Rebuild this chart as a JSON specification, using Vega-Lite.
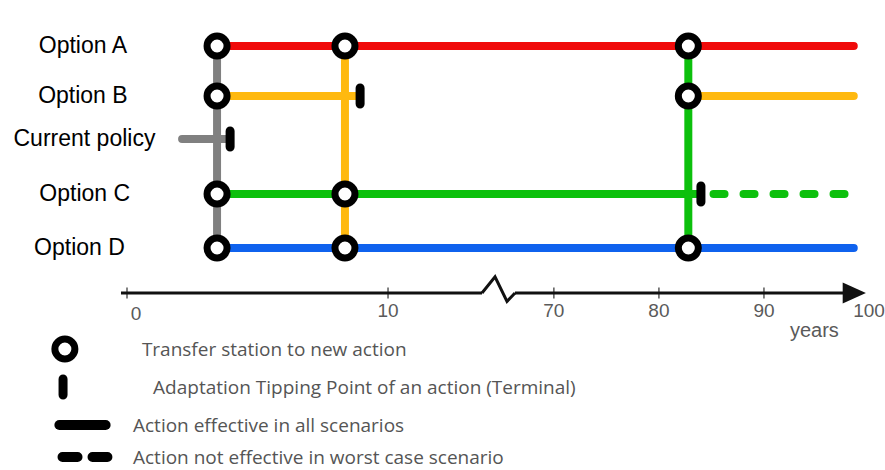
{
  "$schema": "https://vega.github.io/schema/vega-lite/v6.json",
  "width": 885,
  "height": 470,
  "autosize": "none",
  "padding": 0,
  "background": "white",
  "config": {"view": {"stroke": null}},
  "datasets": {
    "segments": [
      {"action": "A", "x": 3.45, "x2": 98.55, "row": 1, "row2": 1, "effective": "all"},
      {"action": "B", "x": 3.45, "x2": 8.93, "row": 2, "row2": 2, "effective": "all"},
      {"action": "B", "x": 82.8, "x2": 98.55, "row": 2, "row2": 2, "effective": "all"},
      {"action": "CP", "x": 2.11, "x2": 3.95, "row": 3, "row2": 3, "effective": "all"},
      {"action": "C", "x": 3.45, "x2": 84.0, "row": 4, "row2": 4, "effective": "all"},
      {"action": "C", "x": 85.2, "x2": 97.7, "row": 4, "row2": 4, "effective": "not worst case"},
      {"action": "D", "x": 3.45, "x2": 98.55, "row": 5, "row2": 5, "effective": "all"},
      {"action": "CP", "x": 3.45, "x2": 3.45, "row": 1, "row2": 5, "effective": "all"},
      {"action": "B", "x": 8.35, "x2": 8.35, "row": 1, "row2": 5, "effective": "all"},
      {"action": "C", "x": 82.8, "x2": 82.8, "row": 1, "row2": 5, "effective": "all"}
    ],
    "stations": [
      {"x": 3.45, "row": 1}, {"x": 8.35, "row": 1}, {"x": 82.8, "row": 1},
      {"x": 3.45, "row": 2}, {"x": 82.8, "row": 2},
      {"x": 3.45, "row": 4}, {"x": 8.35, "row": 4},
      {"x": 3.45, "row": 5}, {"x": 8.35, "row": 5}, {"x": 82.8, "row": 5},
      {"x": -2.38, "row": 9}
    ],
    "terminals": [
      {"x": 8.93, "row": 2}, {"x": 3.95, "row": 3}, {"x": 84.0, "row": 4}, {"x": -2.45, "row": 10}
    ],
    "options": [
      {"label": "Option A", "x": -1.69, "row": 1},
      {"label": "Option B", "x": -1.69, "row": 2},
      {"label": "Current policy", "x": -1.63, "row": 3},
      {"label": "Option C", "x": -1.62, "row": 4},
      {"label": "Option D", "x": -1.82, "row": 5}
    ],
    "axisline": [
      {"x": -0.23, "x2": 13.6, "row": 6},
      {"x": 66.3, "x2": 99.0, "row": 6}
    ],
    "zigzag": [
      {"o": 1, "x": 13.6, "row": 6},
      {"o": 2, "x": 34.4, "row": 5.64},
      {"o": 3, "x": 53.5, "row": 6.47},
      {"o": 4, "x": 66.3, "row": 6}
    ],
    "ticks": [
      {"x": 0, "label": "0", "row": 6},
      {"x": 10, "label": "10", "row": 6},
      {"x": 70, "label": "70", "row": 6},
      {"x": 80, "label": "80", "row": 6},
      {"x": 90, "label": "90", "row": 6},
      {"x": 100, "label": "100", "row": 6}
    ],
    "legendtext": [
      {"x": 0.57, "row": 9, "label": "Transfer station to new action"},
      {"x": 1.0, "row": 10, "label": "Adaptation Tipping Point of an action (Terminal)"},
      {"x": 0.23, "row": 11, "label": "Action effective in all scenarios"},
      {"x": 0.23, "row": 12, "label": "Action not effective in worst case scenario"}
    ]
  },
  "encoding": {
    "x": {
      "field": "x",
      "type": "quantitative",
      "axis": null,
      "scale": {"type": "linear", "domain": [0, 13.6, 66.3, 100], "range": [127, 482, 515, 869], "nice": false, "zero": false}
    },
    "y": {
      "field": "row",
      "type": "quantitative",
      "axis": null,
      "scale": {"type": "linear", "domain": [1, 2, 3, 4, 5, 6, 7, 8, 9, 10, 11, 12], "range": [46, 96, 139, 194, 248, 293, 311, 337, 349, 387, 425, 457], "nice": false, "zero": false}
    }
  },
  "layer": [
    {
      "data": {"name": "segments"},
      "mark": {"type": "rule", "strokeWidth": 8, "strokeCap": "round"},
      "encoding": {
        "x2": {"field": "x2"},
        "y2": {"field": "row2"},
        "color": {
          "field": "action", "type": "nominal", "legend": null,
          "scale": {"domain": ["A", "B", "CP", "C", "D"], "range": ["#f00a0a", "#ffb90f", "#808080", "#0cc00c", "#0f62ee"]}
        },
        "strokeDash": {
          "field": "effective", "type": "nominal", "legend": null,
          "scale": {"domain": ["all", "not worst case"], "range": [[1, 0], [11, 19]]}
        }
      }
    },
    {
      "data": {"name": "axisline"},
      "mark": {"type": "rule", "strokeWidth": 3, "color": "#111111"},
      "encoding": {"x2": {"field": "x2"}}
    },
    {
      "data": {"name": "zigzag"},
      "mark": {"type": "line", "strokeWidth": 3, "color": "#111111", "strokeJoin": "miter"},
      "encoding": {"order": {"field": "o", "type": "quantitative"}}
    },
    {
      "data": {"name": "ticks"},
      "transform": [{"filter": "datum.x < 100"}],
      "mark": {"type": "tick", "orient": "vertical", "size": 11, "thickness": 1.5, "color": "#111111"}
    },
    {
      "data": {"values": [{"x": 98.6, "row": 6}]},
      "mark": {"type": "point", "shape": "M -1 -0.9 L 1 0 L -1 0.9 Z", "size": 540, "filled": true, "color": "#111111", "opacity": 1}
    },
    {
      "data": {"name": "ticks"},
      "transform": [{"filter": "datum.x > 0"}],
      "mark": {"type": "text", "font": "Liberation Sans", "fontSize": 19, "color": "#5a5a5a", "baseline": "middle", "align": "center"},
      "encoding": {"y": {"datum": 7}, "text": {"field": "label"}}
    },
    {
      "data": {"name": "ticks"},
      "transform": [{"filter": "datum.x == 0"}],
      "mark": {"type": "text", "font": "Liberation Sans", "fontSize": 19, "color": "#5a5a5a", "baseline": "middle", "align": "center", "dx": 9, "dy": 3},
      "encoding": {"y": {"datum": 7}, "text": {"field": "label"}}
    },
    {
      "data": {"values": [{"x": 94.8, "row": 8, "label": "years"}]},
      "mark": {"type": "text", "font": "Liberation Sans", "fontSize": 20, "color": "#5a5a5a", "baseline": "alphabetic", "align": "center"},
      "encoding": {"text": {"field": "label"}}
    },
    {
      "data": {"name": "stations"},
      "mark": {"type": "point", "shape": "circle", "size": 400, "filled": false, "fill": "white", "fillOpacity": 1, "stroke": "black", "strokeWidth": 7, "opacity": 1}
    },
    {
      "data": {"name": "terminals"},
      "mark": {"type": "tick", "orient": "vertical", "size": 25, "thickness": 9, "cornerRadius": 4.5, "color": "black", "opacity": 1}
    },
    {
      "data": {"name": "options"},
      "mark": {"type": "text", "font": "Liberation Sans", "fontSize": 23, "color": "black", "align": "center", "baseline": "middle"},
      "encoding": {"text": {"field": "label"}}
    },
    {
      "data": {"values": [{"x": -2.59, "x2": -0.82, "row": 11}]},
      "mark": {"type": "rule", "strokeWidth": 10, "strokeCap": "round", "color": "black"},
      "encoding": {"x2": {"field": "x2"}}
    },
    {
      "data": {"values": [{"x": -2.47, "x2": -0.75, "row": 12}]},
      "mark": {"type": "rule", "strokeWidth": 10, "strokeCap": "round", "color": "black", "strokeDash": [15, 15]},
      "encoding": {"x2": {"field": "x2"}}
    },
    {
      "data": {"name": "legendtext"},
      "mark": {"type": "text", "font": "Open Sans", "fontSize": 19, "color": "#555555", "align": "left", "baseline": "middle", "dy": 1},
      "encoding": {"text": {"field": "label"}}
    }
  ]
}
